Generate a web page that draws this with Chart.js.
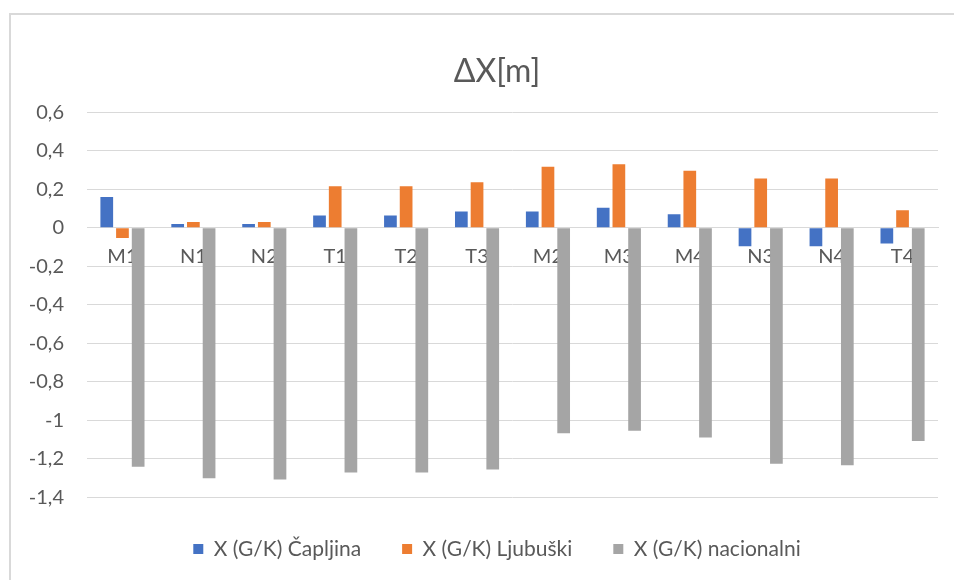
<!DOCTYPE html>
<html>
<head>
<meta charset="utf-8">
<title>ΔX[m]</title>
<script src="https://cdn.jsdelivr.net/npm/chart.js@4.4.1/dist/chart.umd.min.js"></script>
<style>
  html, body { margin: 0; padding: 0; background: #ffffff; }
  .frame {
    position: absolute; left: 9px; top: 13px; width: 960px; height: 600px;
    border-left: 2px solid #d9d9d9; border-top: 2px solid #d9d9d9;
    box-sizing: border-box;
  }
  #chart { position: absolute; left: 0; top: 0; }
</style>
</head>
<body>
<div class="frame"></div>
<canvas id="chart" width="954" height="580"></canvas>
<script>
// Points along the surveyed line
const categories = ['M1', 'N1', 'N2', 'T1', 'T2', 'T3', 'M2', 'M3', 'M4', 'N3', 'N4', 'T4'];

// ΔX differences in metres for each coordinate system
const capljina   = [0.16, 0.02, 0.02, 0.064, 0.064, 0.085, 0.085, 0.104, 0.071, -0.095, -0.095, -0.081];
const ljubuski   = [-0.052, 0.031, 0.031, 0.216, 0.216, 0.237, 0.317, 0.33, 0.296, 0.256, 0.256, 0.091];
const nacionalni = [-1.24, -1.30, -1.306, -1.27, -1.27, -1.254, -1.067, -1.053, -1.088, -1.225, -1.233, -1.107];

const seriesNames = ['X (G/K) Čapljina', 'X (G/K) Ljubuški', 'X (G/K) nacionalni'];

const textColor = '#595959';
const gridColor = '#d9d9d9';

Chart.defaults.font.family = 'Lato, "Liberation Sans", sans-serif';
Chart.defaults.color = textColor;

const barStyle = { barPercentage: 0.81, categoryPercentage: 0.664 };

// Title and legend are centred on the frame rather than on the full canvas width
const centreBlocks = {
  id: 'centreBlocks',
  afterLayout(chart) {
    [chart.titleBlock, chart.legend].forEach((box) => {
      if (box) { box.left = 56; }
    });
  }
};

new Chart(document.getElementById('chart'), {
  type: 'bar',
  data: {
    labels: categories,
    datasets: [
      { label: seriesNames[0], data: capljina,   backgroundColor: '#4472C4', ...barStyle },
      { label: seriesNames[1], data: ljubuski,   backgroundColor: '#ED7D31', ...barStyle },
      { label: seriesNames[2], data: nacionalni, backgroundColor: '#A5A5A5', ...barStyle }
    ]
  },
  plugins: [centreBlocks],
  options: {
    responsive: false,
    animation: false,
    layout: { padding: { top: 14, left: 10, right: 16, bottom: 10.5 } },
    plugins: {
      title: {
        display: true,
        text: 'ΔX[m]',
        color: textColor,
        font: { size: 32, weight: 'normal' },
        padding: { top: 38.8, bottom: 21.1 }
      },
      legend: {
        position: 'bottom',
        labels: {
          color: textColor,
          font: { size: 21 },
          boxWidth: 10,
          boxHeight: 10,
          padding: 41
        }
      },
      tooltip: { enabled: false }
    },
    scales: {
      x: {
        position: { y: 0 },
        grid: { display: false, drawTicks: false },
        border: { display: true, color: gridColor, width: 1 },
        ticks: { color: textColor, font: { size: 20 }, padding: 17, maxRotation: 0, autoSkip: false }
      },
      y: {
        min: -1.4,
        max: 0.6,
        grid: { color: gridColor, lineWidth: 1, drawTicks: false },
        border: { display: false },
        ticks: {
          stepSize: 0.2,
          color: textColor,
          font: { size: 20 },
          padding: 23,
          callback: (v) => Number(Number(v).toFixed(1)).toString().replace('.', ',')
        },
        // fixed width so the plot starts at the same place regardless of label widths
        afterFit: (scale) => { scale.width = 77; }
      }
    }
  }
});
</script>
</body>
</html>
